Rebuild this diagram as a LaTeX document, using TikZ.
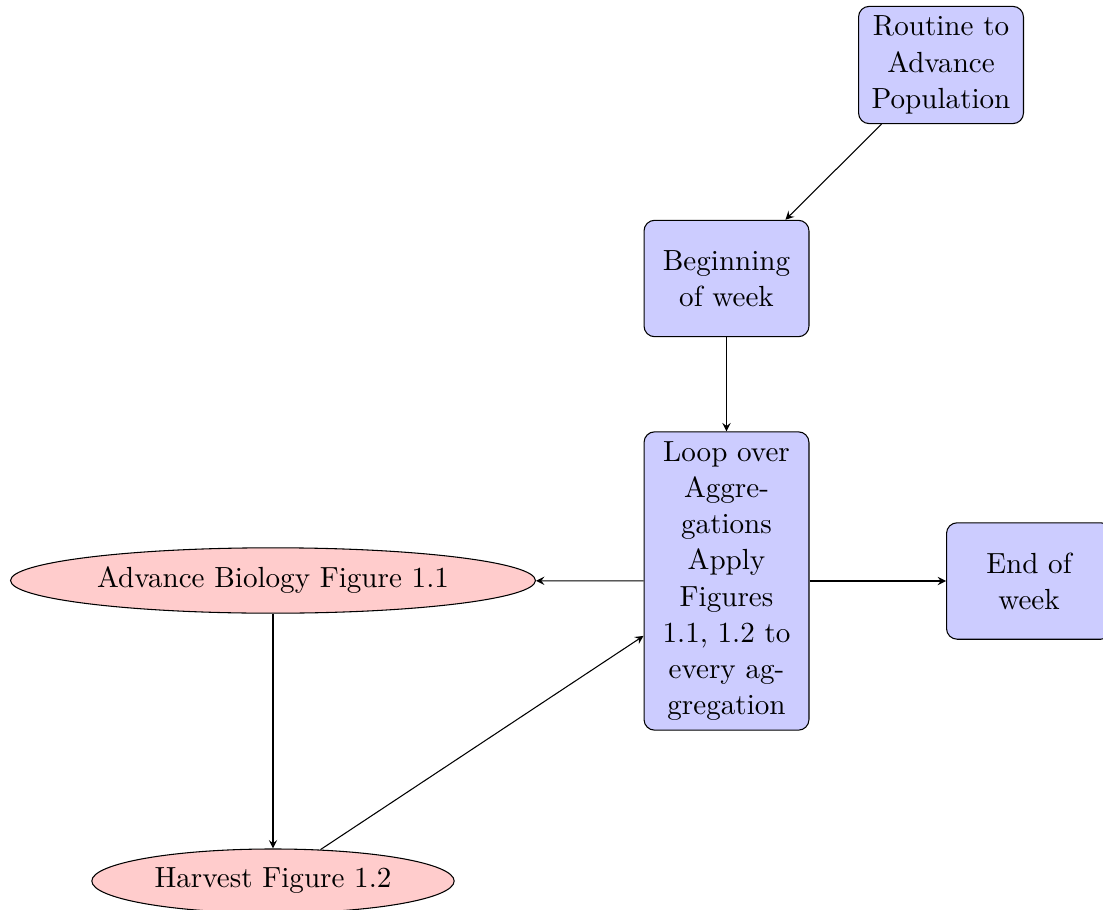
\documentclass[tikz,border=0pt,11pt]{standalone}
\usetikzlibrary{shapes.geometric,arrows.meta}
\begin{document}
\begin{tikzpicture}[x=0.3762pt,y=-0.3762pt,
  block/.style={rectangle, draw, fill=blue!20, text width=5em, align=center, rounded corners, minimum height=4em},
  cloudnode/.style={ellipse, draw, fill=red!20},
  conn/.style={draw, -stealth}]
\useasboundingbox (0,0) rectangle (1103,909);
\node[block] (top) at (941,65) {Routine to Advance Population};
\node[block] (begin) at (726.5,278.5) {Beginning of week};
\node[block] (loop) at (726.5,581) {Loop over Aggregations Apply Figures 1.1, 1.2 to every aggregation};
\node[block] (end) at (1029,581) {End of week};
\node[cloudnode] (adv) at (273,580.5) {Advance Biology Figure 1.1};
\node[cloudnode] (harv) at (273,881) {Harvest Figure 1.2};
\path[conn] (top) -- (begin);
\path[conn] (begin) -- (loop);
\path[conn] (loop) -- (adv);
\path[conn] (loop) -- (end);
\path[conn] (adv) -- (harv);
\path[conn] (harv) -- (loop);
\end{tikzpicture}
\end{document}
